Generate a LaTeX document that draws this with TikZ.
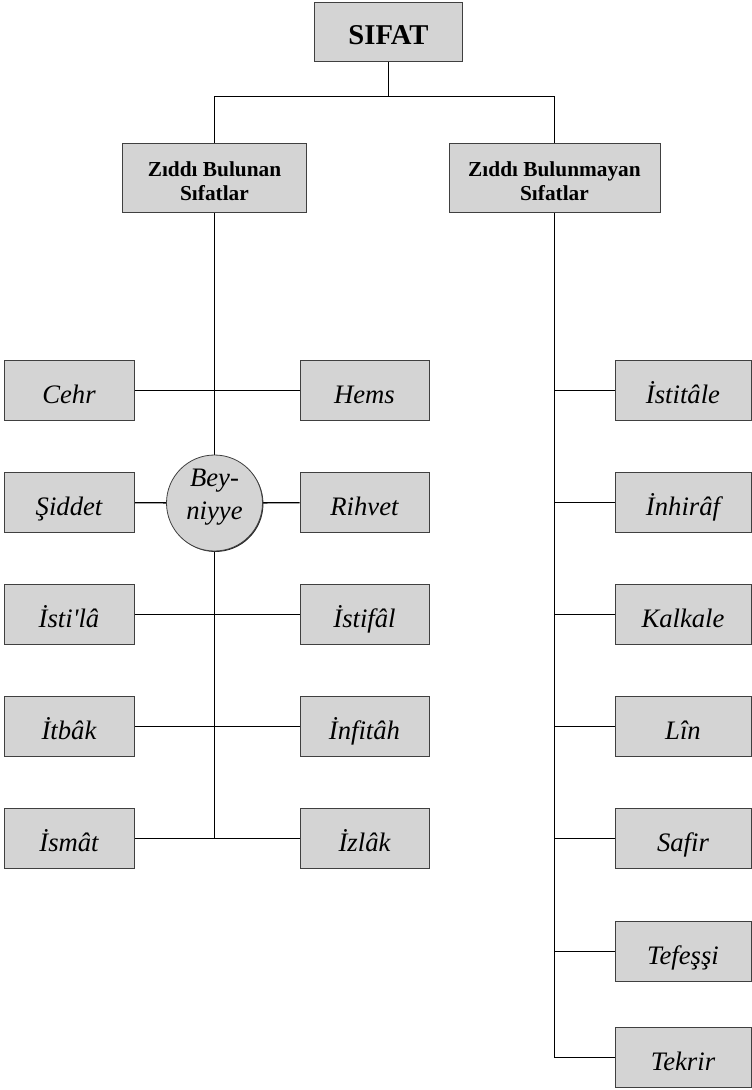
\documentclass[tikz,border=0pt]{standalone}
\usepackage{fontspec}
\setmainfont{Liberation Serif}
\usetikzlibrary{shadows,backgrounds}
\definecolor{boxgray}{HTML}{D4D4D4}
\begin{document}
\begin{tikzpicture}[x=0.75pt,y=-0.75pt,
  base/.style={draw=black!75,line width=0.6pt,fill=boxgray,inner sep=0pt,
    drop shadow={shadow xshift=0.7pt,shadow yshift=-0.7pt,fill=black!85,opacity=1}},
  leaf/.style={base,rectangle,minimum height=45pt,text height=20pt,text depth=0pt,font=\fontsize{20}{24}\selectfont\itshape},
  lbox/.style={leaf,minimum width=97.5pt},
  rbox/.style={leaf,minimum width=96.75pt},
  fbox/.style={leaf,minimum width=102pt},
  head/.style={base,rectangle,minimum height=51.75pt,align=center,font=\fontsize{16}{18}\selectfont\bfseries},
  conn/.style={draw=black,line width=1pt}]
\useasboundingbox (0,0) rectangle (751,1090);
\node[base,rectangle,minimum width=111pt,minimum height=44.25pt,text height=20pt,text depth=0pt,font=\fontsize{21.5}{24}\selectfont\bfseries] (sifat) at (388.5,31.5) {SIFAT};
\node[head,minimum width=138pt] (zb) at (214.5,177.5) {\rule{0pt}{16.9pt}Zıddı Bulunan\\Sıfatlar};
\node[head,minimum width=158.25pt] (zbm) at (554.5,177.5) {\rule{0pt}{16.9pt}Zıddı Bulunmayan\\Sıfatlar};
\coordinate (t) at (388.5,96.5);
% left column
\node[lbox] (cehr) at (69,390.5) {Cehr};
\node[rbox] (hems) at (364.5,390.5) {Hems};
\node[lbox] (siddet) at (69,502.5) {Şiddet};
\node[rbox] (rihvet) at (364.5,502.5) {Rihvet};
\node[base,circle,minimum size=72pt,align=center,font=\fontsize{20}{24.8}\selectfont\itshape] (bey) at (214.5,503) {\rule{0pt}{14pt}Bey-\\niyye\rule[-14pt]{0pt}{14pt}};
\node[lbox] (istila) at (69,614.5) {İsti\textquotesingle lâ};
\node[rbox] (istifal) at (364.5,614.5) {İstifâl};
\node[lbox] (itbak) at (69,726.5) {İtbâk};
\node[rbox] (infitah) at (364.5,726.5) {İnfitâh};
\node[lbox] (ismat) at (69,838.5) {İsmât};
\node[rbox] (izlak) at (364.5,838.5) {İzlâk};
\coordinate (lend) at (214.5,838.5);
% right column
\node[fbox] (istitale) at (683,390.5) {İstitâle};
\node[fbox] (inhiraf) at (683,502.5) {İnhirâf};
\node[fbox] (kalkale) at (683,614.5) {Kalkale};
\node[fbox] (lin) at (683,726.5) {Lîn};
\node[fbox] (safir) at (683,838.5) {Safir};
\node[fbox] (tefessi) at (683,951.5) {Tefeşşi};
\node[fbox] (tekrir) at (683,1057.5) {Tekrir};
\coordinate (rend) at (554.5,1057.5);
\begin{scope}[on background layer]
\draw[conn] (sifat) -- (t);
\draw[conn] (zb.north) -- (zb.north |- t) -- (zbm.north |- t) -- (zbm.north);
\draw[conn] (zb.south) -- (lend);
\draw[conn] (zbm.south) -- (rend);
\draw[conn] (cehr) -- (hems);
\draw[conn] (siddet) -- (bey) -- (rihvet);
\draw[conn] (istila) -- (istifal);
\draw[conn] (itbak) -- (infitah);
\draw[conn] (ismat) -- (izlak);
\foreach \n in {istitale,inhiraf,kalkale,lin,safir,tefessi,tekrir}
  \draw[conn] (\n.west) -- (\n.west -| rend);
\end{scope}
\end{tikzpicture}
\end{document}
